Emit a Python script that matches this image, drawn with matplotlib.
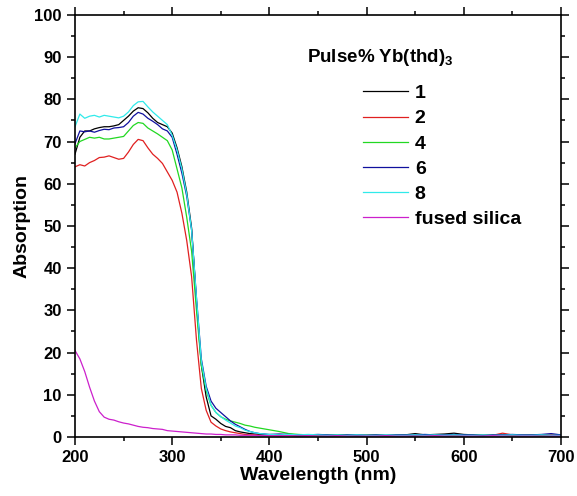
import numpy as np
import matplotlib.pyplot as plt
from matplotlib.ticker import MultipleLocator

plt.rcParams['font.family'] = ['Liberation Sans', 'DejaVu Sans']
plt.rcParams['font.weight'] = 'bold'
plt.rcParams['mathtext.fontset'] = 'custom'
plt.rcParams['mathtext.rm'] = 'Liberation Sans:bold'
plt.rcParams['mathtext.bf'] = 'Liberation Sans:bold'

# wavelength grid (nm): 5 nm steps up to 400, then 10 nm steps
wavelength = list(range(200, 400, 5)) + list(range(400, 701, 10))

# absorption (%), one list per sample
abs_1 = [67.0, 71.0, 72.5, 72.5, 73.0, 73.3, 73.5, 73.5, 73.7, 74.0,
         75.0, 76.0, 77.2, 78.0, 77.8, 76.8, 75.5, 74.5, 74.0, 73.5,
         72.0, 68.5, 64.0, 58.0, 49.5, 32.0, 17.0, 9.5, 5.0, 4.2,
         3.2, 2.5, 2.2, 1.5, 1.2, 1.0, 0.8, 0.7, 0.6, 0.6,
         0.5, 0.5, 0.6, 0.5, 0.4, 0.5, 0.4, 0.5, 0.5, 0.4,
         0.4, 0.5, 0.4, 0.4, 0.5, 0.8, 0.5, 0.6, 0.7, 0.9,
         0.6, 0.5, 0.4, 0.5, 0.4, 0.5, 0.4, 0.4, 0.5, 0.4, 0.4]
abs_2 = [64.0, 64.5, 64.2, 65.0, 65.5, 66.2, 66.3, 66.6, 66.2, 65.8,
         66.0, 67.5, 69.3, 70.5, 70.2, 68.5, 67.0, 66.0, 64.8, 62.8,
         60.8, 58.0, 53.0, 46.5, 38.0, 23.0, 11.5, 6.3, 3.5, 2.6,
         1.9, 1.5, 1.2, 1.0, 0.8, 0.6, 0.5, 0.5, 0.4, 0.4,
         0.4, 0.3, 0.4, 0.3, 0.3, 0.4, 0.3, 0.3, 0.4, 0.3,
         0.3, 0.4, 0.3, 0.3, 0.4, 0.3, 0.4, 0.3, 0.4, 0.4,
         0.3, 0.4, 0.5, 0.4, 0.9, 0.5, 0.4, 0.5, 0.4, 0.5, 0.4]
abs_4 = [68.5, 70.0, 70.5, 71.0, 70.8, 71.0, 70.6, 70.6, 70.8, 71.0,
         71.2, 72.5, 73.8, 74.5, 74.3, 73.2, 72.5, 71.8, 71.0, 70.2,
         68.0, 63.5, 59.0, 52.0, 44.0, 30.0, 17.0, 11.0, 7.5, 5.8,
         4.8, 4.2, 3.8, 3.5, 3.2, 2.8, 2.6, 2.3, 2.1, 1.9,
         1.7, 1.3, 0.8, 0.6, 0.5, 0.5, 0.4, 0.5, 0.4, 0.4,
         0.4, 0.4, 0.3, 0.4, 0.4, 0.4, 0.3, 0.4, 0.4, 0.4,
         0.3, 0.4, 0.4, 0.3, 0.4, 0.4, 0.3, 0.4, 0.4, 0.3, 0.3]
abs_6 = [69.5, 72.5, 72.3, 72.5, 72.2, 72.6, 72.9, 72.8, 73.2, 73.3,
         73.5, 74.5, 76.0, 76.9, 76.5, 75.5, 74.8, 74.0, 73.0, 72.5,
         71.0, 67.0, 62.5, 57.0, 49.0, 33.0, 18.5, 12.0, 8.5, 6.8,
         5.8, 4.8, 3.8, 3.0, 2.4, 1.8, 1.3, 1.0, 0.8, 0.7,
         0.6, 0.7, 0.6, 0.5, 0.5, 0.6, 0.5, 0.4, 0.5, 0.5,
         0.4, 0.5, 0.4, 0.5, 0.5, 0.5, 0.6, 0.5, 0.5, 0.6,
         0.5, 0.5, 0.4, 0.5, 0.5, 0.6, 0.5, 0.5, 0.6, 0.8, 0.5]
abs_8 = [73.5, 76.5, 75.5, 76.0, 76.2, 75.8, 76.2, 76.0, 75.8, 75.6,
         76.0, 77.0, 78.5, 79.4, 79.5, 78.2, 77.0, 76.0, 75.0, 74.0,
         71.5, 68.0, 63.5, 57.5, 49.0, 33.0, 18.0, 11.5, 7.5, 5.8,
         4.8, 4.0, 3.3, 2.6, 2.2, 1.6, 1.3, 1.0, 0.8, 0.7,
         0.6, 0.5, 0.6, 0.5, 0.6, 0.5, 0.4, 0.5, 0.4, 0.5,
         0.4, 0.4, 0.5, 0.4, 0.4, 0.5, 0.4, 0.5, 0.4, 0.5,
         0.4, 0.4, 0.5, 0.4, 0.4, 0.5, 0.4, 0.4, 0.5, 0.4, 0.4]
abs_silica = [20.5, 18.5, 15.5, 11.8, 8.5, 6.0, 4.7, 4.2, 4.0, 3.6,
              3.3, 3.1, 2.8, 2.5, 2.3, 2.2, 2.0, 1.9, 1.8, 1.5,
              1.4, 1.3, 1.2, 1.1, 1.0, 0.9, 0.8, 0.7, 0.7, 0.6,
              0.6, 0.5, 0.5, 0.5, 0.4, 0.4, 0.4, 0.4, 0.3, 0.3,
              0.3, 0.3, 0.3, 0.2, 0.3, 0.2, 0.2, 0.3, 0.2, 0.2,
              0.2, 0.2, 0.3, 0.2, 0.2, 0.2, 0.2, 0.3, 0.2, 0.2,
              0.2, 0.2, 0.2, 0.3, 0.2, 0.2, 0.2, 0.2, 0.2, 0.2, 0.2]

series = [abs_1, abs_2, abs_4, abs_6, abs_8, abs_silica]
labels = ['1', '2', '4', '6', '8', 'fused silica']
colors = ['#000000', '#e02020', '#22d822', '#10109e', '#30eaea', '#cc20cc']

fig = plt.figure(figsize=(5.77, 4.96), dpi=100)
ax = fig.add_axes([0.130, 0.119, 0.842, 0.851])

for y, lab, c in zip(series, labels, colors):
    ax.plot(wavelength, y, color=c, lw=0.9, label=lab)

ax.set_xlim(200, 700)
ax.set_ylim(0, 100)
ax.xaxis.set_major_locator(MultipleLocator(100))
ax.xaxis.set_minor_locator(MultipleLocator(50))
ax.yaxis.set_major_locator(MultipleLocator(10))
ax.yaxis.set_minor_locator(MultipleLocator(5))
ax.tick_params(which='both', direction='out', top=True, right=True,
               width=1.1, labelsize=12)
ax.tick_params(which='major', length=6)
ax.tick_params(which='minor', length=3)
for s in ax.spines.values():
    s.set_linewidth(1.2)

ax.set_xlabel('Wavelength (nm)', fontsize=14, fontweight='bold', labelpad=1)
ax.set_ylabel('Absorption', fontsize=14, fontweight='bold', labelpad=3)

ax.text(0.477, 0.90, r'Pulse% Yb(thd)$_{\mathbf{3}}$', transform=ax.transAxes,
        fontsize=13.5, fontweight='bold', va='center', ha='left')
leg = ax.legend(loc='upper left', bbox_to_anchor=(0.593, 0.835), frameon=False,
                fontsize=14, handlelength=2.3, handletextpad=0.36,
                labelspacing=0.39, borderpad=0, borderaxespad=0)

fig.savefig('out.png', dpi=100)
